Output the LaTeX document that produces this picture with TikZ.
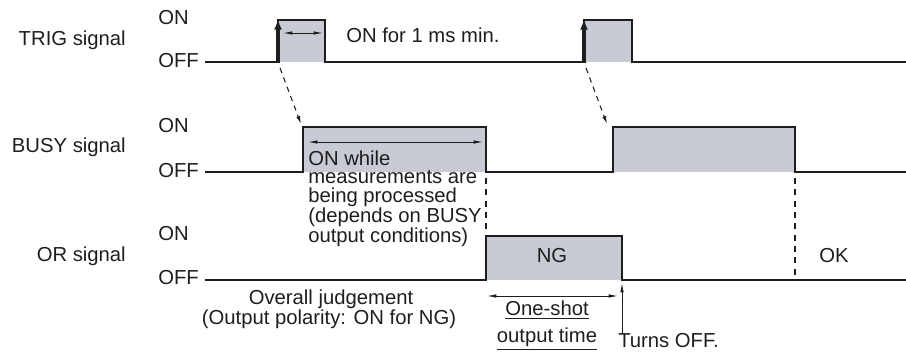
\documentclass[tikz,border=0pt]{standalone}
\usepackage{fontspec}
\setmainfont{Liberation Sans}
\usetikzlibrary{arrows.meta}
\definecolor{pulse}{RGB}{200,203,211}
\definecolor{ink}{RGB}{30,30,30}
\begin{document}
\begin{tikzpicture}[x=0.75pt,y=-0.75pt,
  sig/.style={draw=ink, line width=1.4pt, line join=miter},
  lbl/.style={inner sep=0pt, text=ink, font=\fontsize{15.2}{13.9}\selectfont},
  dimarrow/.style={draw=ink, line width=0.6pt, {Latex[length=7pt,width=2.6pt]}-{Latex[length=7pt,width=2.6pt]}},
  uparrow/.style={draw=ink, line width=0.6pt, -{Latex[length=7pt,width=2.6pt]}},
  trigarrow/.style={draw=ink, line width=2.4pt, -{Latex[length=8pt,width=6pt]}},
  linkarrow/.style={draw=ink, line width=0.8pt, dash pattern=on 4pt off 3.5pt, -{Latex[length=6pt,width=3pt]}},
  guide/.style={draw=ink, line width=0.8pt, dash pattern=on 4.5pt off 4pt}]
\useasboundingbox (0,0) rectangle (906,352);
% fills
\fill[pulse] (278,20) rectangle (325,62);
\fill[pulse] (584,20) rectangle (632,62);
\fill[pulse] (303,127) rectangle (486,172);
\fill[pulse] (613,127) rectangle (795,172);
\fill[pulse] (486,236) rectangle (622,280);
% signals
\draw[sig] (205,62) -- (278,62) -- (278,20) -- (325,20) -- (325,62) -- (584,62) -- (584,20) -- (632,20) -- (632,62) -- (906,62);
\draw[sig] (205,172) -- (303,172) -- (303,127) -- (486,127) -- (486,172) -- (613,172) -- (613,127) -- (795,127) -- (795,172) -- (906,172);
\draw[sig] (205,280) -- (486,280) -- (486,236) -- (622,236) -- (622,280) -- (906,280);
% trigger arrows
\coordinate (tr1a) at (278,63);
\coordinate (tr1b) at (278,19);
\coordinate (tr2a) at (584,63);
\coordinate (tr2b) at (584,19);
\draw[trigarrow] (tr1a) -- (tr1b);
\draw[trigarrow] (tr2a) -- (tr2b);
% links
\coordinate (l1a) at (280,68);
\coordinate (l1b) at (301,124);
\coordinate (l2a) at (586,68);
\coordinate (l2b) at (607,124);
\draw[linkarrow] (l1a) -- (l1b);
\draw[linkarrow] (l2a) -- (l2b);
% guides
\coordinate (g1a) at (486,178);
\coordinate (g1b) at (486,236);
\coordinate (g2a) at (795,178);
\coordinate (g2b) at (795,278);
\draw[guide] (g1a) -- (g1b);
\draw[guide] (g2a) -- (g2b);
% dimension arrows
\coordinate (d1a) at (283,33);
\coordinate (d1b) at (323,33);
\draw[dimarrow] (d1a) -- (d1b);
\coordinate (d2a) at (308,142);
\coordinate (d2b) at (483,142);
\draw[dimarrow] (d2a) -- (d2b);
\coordinate (d3a) at (487,296);
\coordinate (d3b) at (618,296);
\draw[dimarrow] (d3a) -- (d3b);
\coordinate (offa) at (622,334);
\coordinate (offb) at (622,283);
\draw[uparrow] (offa) -- (offb);
% labels
\node[lbl, anchor=base east] (trig) at (126,46) {TRIG signal};
\node[lbl, anchor=base east] (busy) at (126,153) {BUSY signal};
\node[lbl, anchor=base east] (or) at (126,262) {OR signal};
\node[lbl, anchor=base west] (on1) at (158,25) {ON};
\node[lbl, anchor=base west] (off1) at (158,68) {OFF};
\node[lbl, anchor=base west] (on2) at (158,133) {ON};
\node[lbl, anchor=base west] (off2) at (158,178) {OFF};
\node[lbl, anchor=base west] (on3) at (158,241) {ON};
\node[lbl, anchor=base west] (off3) at (158,285) {OFF};
\node[lbl, anchor=base west] (min) at (346,43) {ON for 1 ms min.};
\node[lbl, anchor=north west, align=left] (while) at (308,150.5)
  {ON while\\measurements are\\being processed\\(depends on BUSY\\output conditions)};
\node[lbl, anchor=base] (ng) at (552,263) {NG};
\node[lbl, anchor=base west] (ok) at (819,263) {OK};
\node[lbl, anchor=base] (oj) at (331,305) {Overall judgement};
\node[lbl, anchor=base] (op) at (329,325) {(Output polarity: ON for NG)};
\node[lbl, anchor=base] (os1) at (547,316) {\underline{One-shot}};
\node[lbl, anchor=base] (os2) at (547,343) {\underline{output time}};
\node[lbl, anchor=base west] (toff) at (618,348) {Turns OFF.};
\end{tikzpicture}
\end{document}
